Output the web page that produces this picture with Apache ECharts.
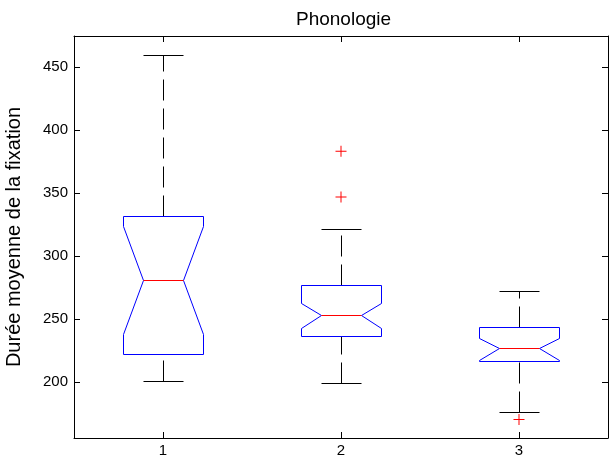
<!DOCTYPE html>
<html><head><meta charset="utf-8">
<script src="https://cdn.jsdelivr.net/npm/echarts@6/dist/echarts.min.js"></script>
<style>html,body{margin:0;padding:0;background:#fff}#c{width:611px;height:463px}</style>
</head><body><div id="c"></div>
<script>
const categories = ['1', '2', '3'];
const whiskerLow  = [200.8, 199.8, 176.5];
const q1          = [222.2, 237.0, 216.7];
const notchLow    = [238.6, 243.4, 217.4];
const median      = [281.0, 253.7, 227.2];
const notchHigh   = [323.7, 262.9, 235.4];
const q3          = [331.9, 277.1, 243.8];
const whiskerHigh = [459.5, 321.9, 272.2];
const outlierGroup = [1, 1, 2];
const outlierValue = [346.9, 383.2, 170.4];
const yTicks = [200, 250, 300, 350, 400, 450];
const yMin = 155.8, yMax = 474.6;

const FONT = 'Liberation Sans, Arial, sans-serif';
const boxData = categories.map((c, i) => [i, whiskerLow[i], q1[i], notchLow[i], median[i], notchHigh[i], q3[i], whiskerHigh[i]]);
const outData = outlierValue.map((v, i) => [outlierGroup[i], v]);

function renderBox(params, api) {
  const i = api.value(0);
  const band = api.size([1, 0])[0];
  const hw = Math.round(band * 0.225), nw = Math.round(hw / 2), cw = Math.round(hw / 2);
  const cx = Math.round(api.coord([i, api.value(4)])[0]) + 0.5;
  const Y = k => Math.round(api.coord([i, api.value(k)])[1]) + 0.5;
  const yWl = Y(1), yQ1 = Y(2), yNl = Y(3), yMed = Y(4), yNh = Y(5), yQ3 = Y(6), yWh = Y(7);
  const L = cx - hw, R = cx + hw;
  const wStyle = () => ({ stroke: '#000', lineWidth: 1, lineDash: [21, 8], fill: null });
  const cStyle = () => ({ stroke: '#000', lineWidth: 1, fill: null });
  return {
    type: 'group',
    children: [
      { type: 'line', shape: { x1: cx, y1: yQ3, x2: cx, y2: yWh }, style: wStyle() },
      { type: 'line', shape: { x1: cx, y1: yWl, x2: cx, y2: yQ1 }, style: wStyle() },
      { type: 'line', shape: { x1: cx - cw, y1: yWh, x2: cx + cw, y2: yWh }, style: cStyle() },
      { type: 'line', shape: { x1: cx - cw, y1: yWl, x2: cx + cw, y2: yWl }, style: cStyle() },
      { type: 'polygon', shape: { points: [[L, yQ1], [L, yNl], [cx - nw, yMed], [L, yNh], [L, yQ3], [R, yQ3], [R, yNh], [cx + nw, yMed], [R, yNl], [R, yQ1]] },
        style: { stroke: '#0000ff', lineWidth: 1, fill: null } },
      { type: 'line', shape: { x1: cx - nw, y1: yMed, x2: cx + nw, y2: yMed }, style: { stroke: '#ff0000', lineWidth: 1 } }
    ]
  };
}

const axisLine = { show: true, onZero: false, lineStyle: { color: '#000', width: 1 } };
const chart = echarts.init(document.getElementById('c'), null, { renderer: 'canvas' });
chart.setOption({
  animation: false,
  backgroundColor: '#fff',
  title: { text: 'Phonologie', left: 291, top: 5, textStyle: { fontSize: 19, fontWeight: 'normal', color: '#000', fontFamily: FONT } },
  grid: { left: 74, right: 3, top: 36, bottom: 25, containLabel: false, outerBoundsMode: 'none' },
  xAxis: [
    { type: 'category', data: categories, position: 'bottom', boundaryGap: true, axisLine,
      axisTick: { show: true, inside: true, length: 6, alignWithLabel: true, lineStyle: { color: '#000' } },
      axisLabel: { color: '#000', fontSize: 15, margin: 5, fontFamily: FONT }, splitLine: { show: false } },
    { type: 'category', data: categories, position: 'top', boundaryGap: true, axisLine,
      axisTick: { show: true, inside: true, length: 6, alignWithLabel: true, lineStyle: { color: '#000' } },
      axisLabel: { show: false }, splitLine: { show: false } }
  ],
  yAxis: [
    { type: 'value', min: yMin, max: yMax, position: 'left', axisLine,
      name: 'Durée moyenne de la fixation', nameLocation: 'middle', nameRotate: 90, nameGap: 50,
      nameTextStyle: { fontSize: 20, color: '#000', fontFamily: FONT },
      axisTick: { show: true, inside: true, length: 6, customValues: yTicks, lineStyle: { color: '#000' } },
      axisLabel: { color: '#000', fontSize: 15, margin: 6, fontFamily: FONT, customValues: yTicks },
      splitLine: { show: false } },
    { type: 'value', min: yMin, max: yMax, position: 'right', axisLine,
      axisTick: { show: true, inside: true, length: 6, customValues: yTicks, lineStyle: { color: '#000' } },
      axisLabel: { show: false, customValues: yTicks }, splitLine: { show: false } }
  ],
  series: [
    { type: 'custom', renderItem: renderBox, data: boxData, xAxisIndex: 0, yAxisIndex: 0,
      encode: { x: 0, y: [1, 2, 3, 4, 5, 6, 7] }, clip: false, z: 2 },
    { type: 'scatter', data: outData, xAxisIndex: 0, yAxisIndex: 0, z: 3,
      symbol: 'path://M5,0h1v5h5v1h-5v5h-1v-5h-5v-1h5z', symbolSize: 11,
      itemStyle: { color: '#ff0000', opacity: 1 }, emphasis: { disabled: true } }
  ]
});
</script></body></html>
